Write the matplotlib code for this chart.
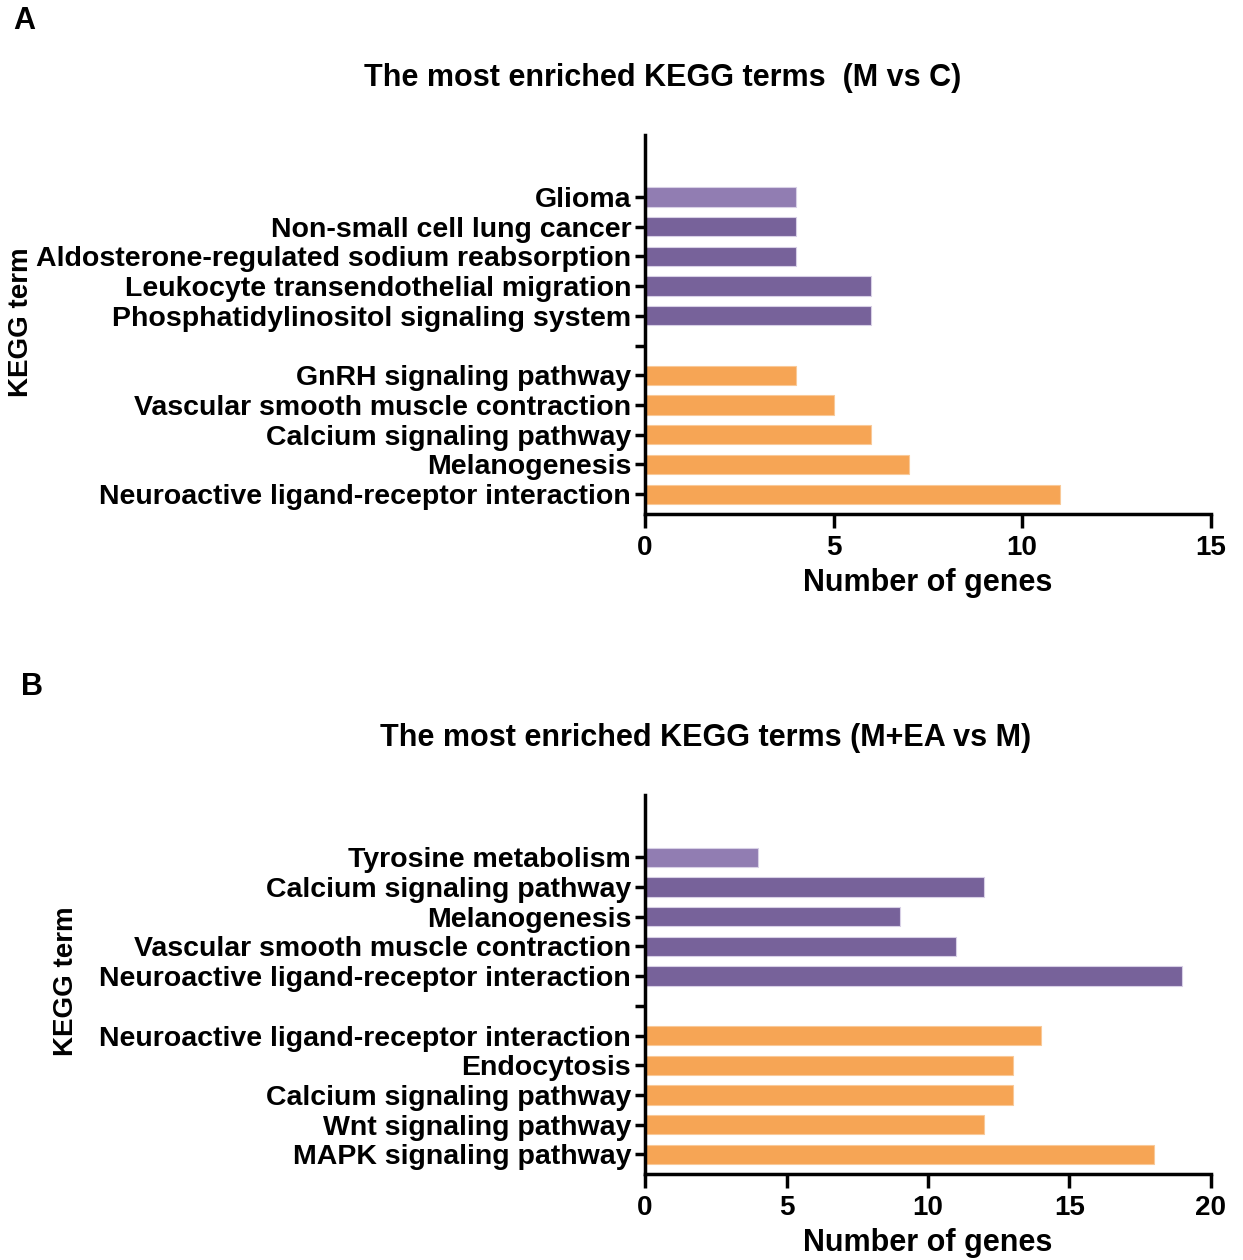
import numpy as np
import matplotlib.pyplot as plt

plt.rcParams['font.family'] = ['Liberation Sans', 'DejaVu Sans']
plt.rcParams['font.weight'] = 'bold'

# panel A (M vs C), listed top to bottom
terms_a_up = ['Glioma', 'Non-small cell lung cancer', 'Aldosterone-regulated sodium reabsorption',
              'Leukocyte transendothelial migration', 'Phosphatidylinositol signaling system']
counts_a_up = [4, 4, 4, 6, 6]
terms_a_down = ['GnRH signaling pathway', 'Vascular smooth muscle contraction',
                'Calcium signaling pathway', 'Melanogenesis',
                'Neuroactive ligand-receptor interaction']
counts_a_down = [4, 5, 6, 7, 11]

# panel B (M+EA vs M)
terms_b_up = ['Tyrosine metabolism', 'Calcium signaling pathway', 'Melanogenesis',
              'Vascular smooth muscle contraction', 'Neuroactive ligand-receptor interaction']
counts_b_up = [4, 12, 9, 11, 19]
terms_b_down = ['Neuroactive ligand-receptor interaction', 'Endocytosis',
                'Calcium signaling pathway', 'Wnt signaling pathway', 'MAPK signaling pathway']
counts_b_down = [14, 13, 13, 12, 18]

light_purple = '#917DB2'
purple = '#77629A'
orange = '#F6A555'

fig = plt.figure(figsize=(12.43, 12.60), dpi=100)


def panel(rect, up_terms, up_counts, down_terms, down_counts, xmax, xstep, title, title_x, title_y):
    ax = fig.add_axes(rect)
    labels = up_terms + [''] + down_terms
    pos = np.arange(len(labels))[::-1]
    up_pos = pos[:len(up_terms)]
    down_pos = pos[len(up_terms) + 1:]
    cols = [light_purple] + [purple] * (len(up_terms) - 1)
    ax.barh(up_pos, up_counts, height=0.65, color=cols, edgecolor='#D8D0E6', linewidth=0.8)
    ax.barh(down_pos, down_counts, height=0.65, color=orange, edgecolor='#F9C998', linewidth=0.8)
    ax.set_yticks(pos)
    ax.set_yticklabels(labels, fontsize=20.5, fontweight='bold')
    ax.set_ylim(-0.67, 12.09)
    ax.set_xlim(0, xmax)
    ax.set_xticks(np.arange(0, xmax + 1, xstep))
    ax.tick_params(axis='x', labelsize=20, length=10, width=2.5, pad=5)
    ax.tick_params(axis='y', length=7, width=2.5, pad=3)
    for s in ['top', 'right']:
        ax.spines[s].set_visible(False)
    for s in ['left', 'bottom']:
        ax.spines[s].set_linewidth(2.5)
    ax.set_xlabel('Number of genes', fontsize=22, fontweight='bold', labelpad=5)
    fig.text(title_x, title_y, title, fontsize=22, fontweight='bold', ha='center', va='center')
    return ax


axa = panel([0.519, 0.592, 0.455, 0.301], terms_a_up, counts_a_up, terms_a_down, counts_a_down,
            15, 5, 'The most enriched KEGG terms  (M vs C)', 0.533, 0.938)
fig.text(0.017, 0.744, 'KEGG term', rotation=90, fontsize=20, fontweight='bold', va='center', ha='center')

axb = panel([0.519, 0.068, 0.455, 0.301], terms_b_up, counts_b_up, terms_b_down, counts_b_down,
            20, 5, 'The most enriched KEGG terms (M+EA vs M)', 0.568, 0.414)
fig.text(0.053, 0.221, 'KEGG term', rotation=90, fontsize=20, fontweight='bold', va='center', ha='center')

fig.text(0.011, 0.983, 'A', fontsize=22, fontweight='bold', va='center')
fig.text(0.017, 0.455, 'B', fontsize=22, fontweight='bold', va='center')

fig.savefig('out.png', dpi=100)
